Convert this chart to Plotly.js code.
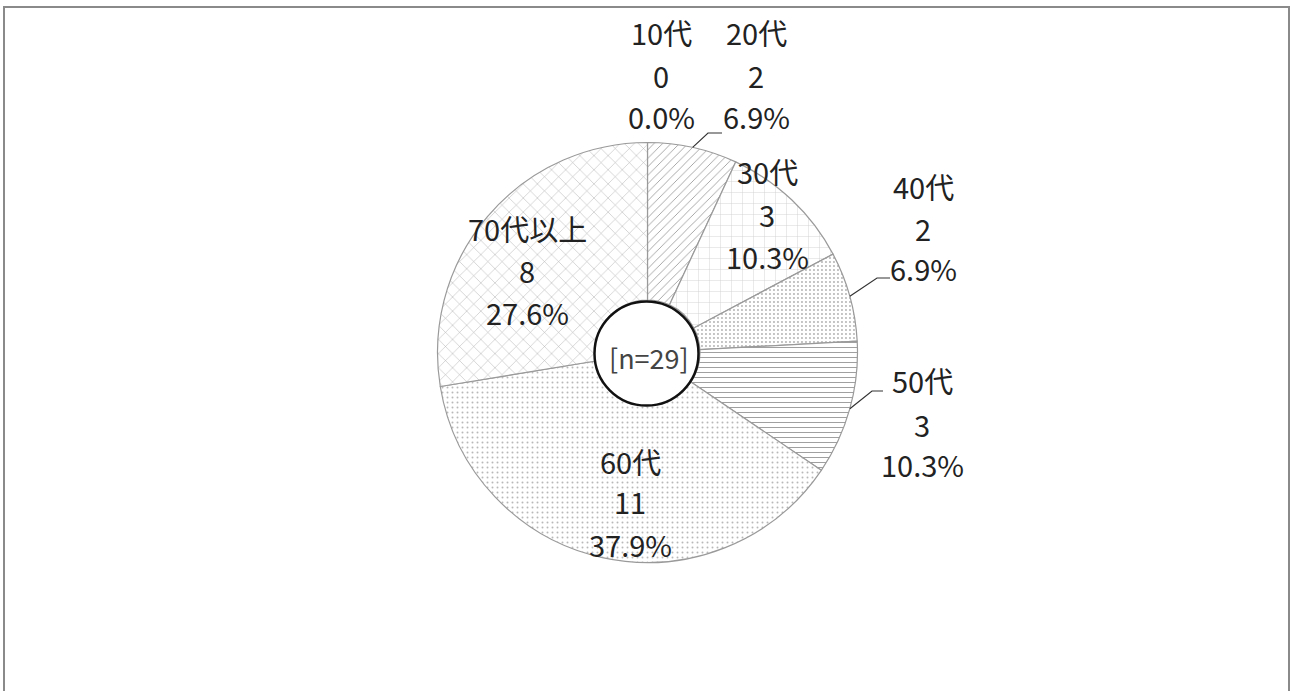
<!DOCTYPE html>
<html><head><meta charset="utf-8">
<script src="https://cdn.plot.ly/plotly-3.0.1.min.js"></script>
<style>html,body{margin:0;padding:0;background:#fff;}#chart{width:1291px;height:691px;}</style>
</head><body><div id="chart"></div>
<script>
// ---- data ----
const categories = ['10代','20代','30代','40代','50代','60代','70代以上'];
const counts = [0, 2, 3, 2, 3, 11, 8];
const centerLabel = '[n=29]';

// ---- layout / style config (pixels) ----
const W = 1291, H = 691;
const cx = 647.5, cy = 352.5, R = 210;
const labelPos = {
  '10代':    {x: 661, ys: [32, 75, 116]},
  '20代':    {x: 756, ys: [32, 75, 116], elbow: [708, 133], end: [722, 133]},
  '30代':    {x: 767, ys: [171, 214, 256]},
  '40代':    {x: 923, ys: [186, 228, 268], elbow: [877, 278], end: [890, 278]},
  '50代':    {x: 922, ys: [380, 424, 464], elbow: [872, 391], end: [883, 391]},
  '60代':    {x: 630, ys: [461, 501, 544]},
  '70代以上': {x: 527, ys: [228, 270, 312]}
};
const patShapes = ['', '/', '+', '.', '-', '.', 'x'];
const patFg = ['#999', '#a0a0a0', '#cfcfcf', '#b0b0b0', '#a0a0a0', '#b8b8b8', '#b0b0b0'];
const patSize = [8, 6, 11, 4, 5, 5, 10];
const patSolid = [0.2, 0.15, 0.08, 0.18, 0.2, 0.12, 0.1];

const px = x => x / W;
const py = y => 1 - y / H;

const total = counts.reduce((a, b) => a + b, 0);

const trace = {
  type: 'pie',
  labels: categories,
  values: counts,
  sort: false,
  direction: 'clockwise',
  rotation: 0,
  hole: 0.25,
  textinfo: 'none',
  hoverinfo: 'skip',
  showlegend: false,
  domain: {x: [px(cx - R), px(cx + R)], y: [py(cy + R), py(cy - R)]},
  marker: {
    colors: categories.map(() => '#ffffff'),
    line: {color: '#9a9a9a', width: 1.2},
    pattern: {
      shape: patShapes,
      fgcolor: patFg,
      bgcolor: categories.map(() => '#ffffff'),
      size: patSize,
      solidity: patSolid,
      fillmode: 'replace'
    }
  }
};

const annotations = [];
const shapes = [];
const font = {family: '"Noto Sans CJK JP", "Noto Sans", sans-serif', size: 29, color: '#222'};
let cum = 0;
categories.forEach((c, i) => {
  const v = counts[i];
  const mid = (cum + v / 2) / total * 2 * Math.PI;
  cum += v;
  const p = labelPos[c];
  const lines = [c, String(v), (v / total * 100).toFixed(1) + '%'];
  lines.forEach((t, k) => {
    annotations.push({
      xref: 'paper', yref: 'paper', x: px(p.x), y: py(p.ys[k]),
      xanchor: 'center', yanchor: 'middle', showarrow: false,
      text: t, font: font
    });
  });
  if (p.elbow) {
    const sx = cx + R * Math.sin(mid), sy = cy - R * Math.cos(mid);
    shapes.push({
      type: 'path', xref: 'paper', yref: 'paper',
      path: `M ${px(sx)} ${py(sy)} L ${px(p.elbow[0])} ${py(p.elbow[1])} L ${px(p.end[0])} ${py(p.end[1])}`,
      line: {color: '#333', width: 1.2}
    });
  }
});

// center circle
const hr = 52;
shapes.push({
  type: 'circle', xref: 'paper', yref: 'paper',
  x0: px(cx - 1 - hr), x1: px(cx - 1 + hr), y0: py(cy + 1 + hr), y1: py(cy + 1 - hr),
  fillcolor: '#ffffff', line: {color: '#111', width: 2.5}, layer: 'above'
});
annotations.push({
  xref: 'paper', yref: 'paper', x: px(cx + 1), y: py(cy + 5),
  xanchor: 'center', yanchor: 'middle', showarrow: false,
  text: centerLabel,
  font: {family: '"Noto Sans CJK JP", "Noto Sans", sans-serif', size: 27, color: '#444'}
});

// outer frame
shapes.push({
  type: 'rect', xref: 'paper', yref: 'paper',
  x0: px(4), x1: px(1289), y0: py(700), y1: py(7),
  line: {color: '#8a8a8a', width: 2}, fillcolor: 'rgba(0,0,0,0)'
});

Plotly.newPlot('chart', [trace], {
  width: W, height: H,
  margin: {l: 0, r: 0, t: 0, b: 0},
  paper_bgcolor: '#ffffff',
  plot_bgcolor: '#ffffff',
  annotations: annotations,
  shapes: shapes
}, {displayModeBar: false, staticPlot: true});
</script>
</body></html>
